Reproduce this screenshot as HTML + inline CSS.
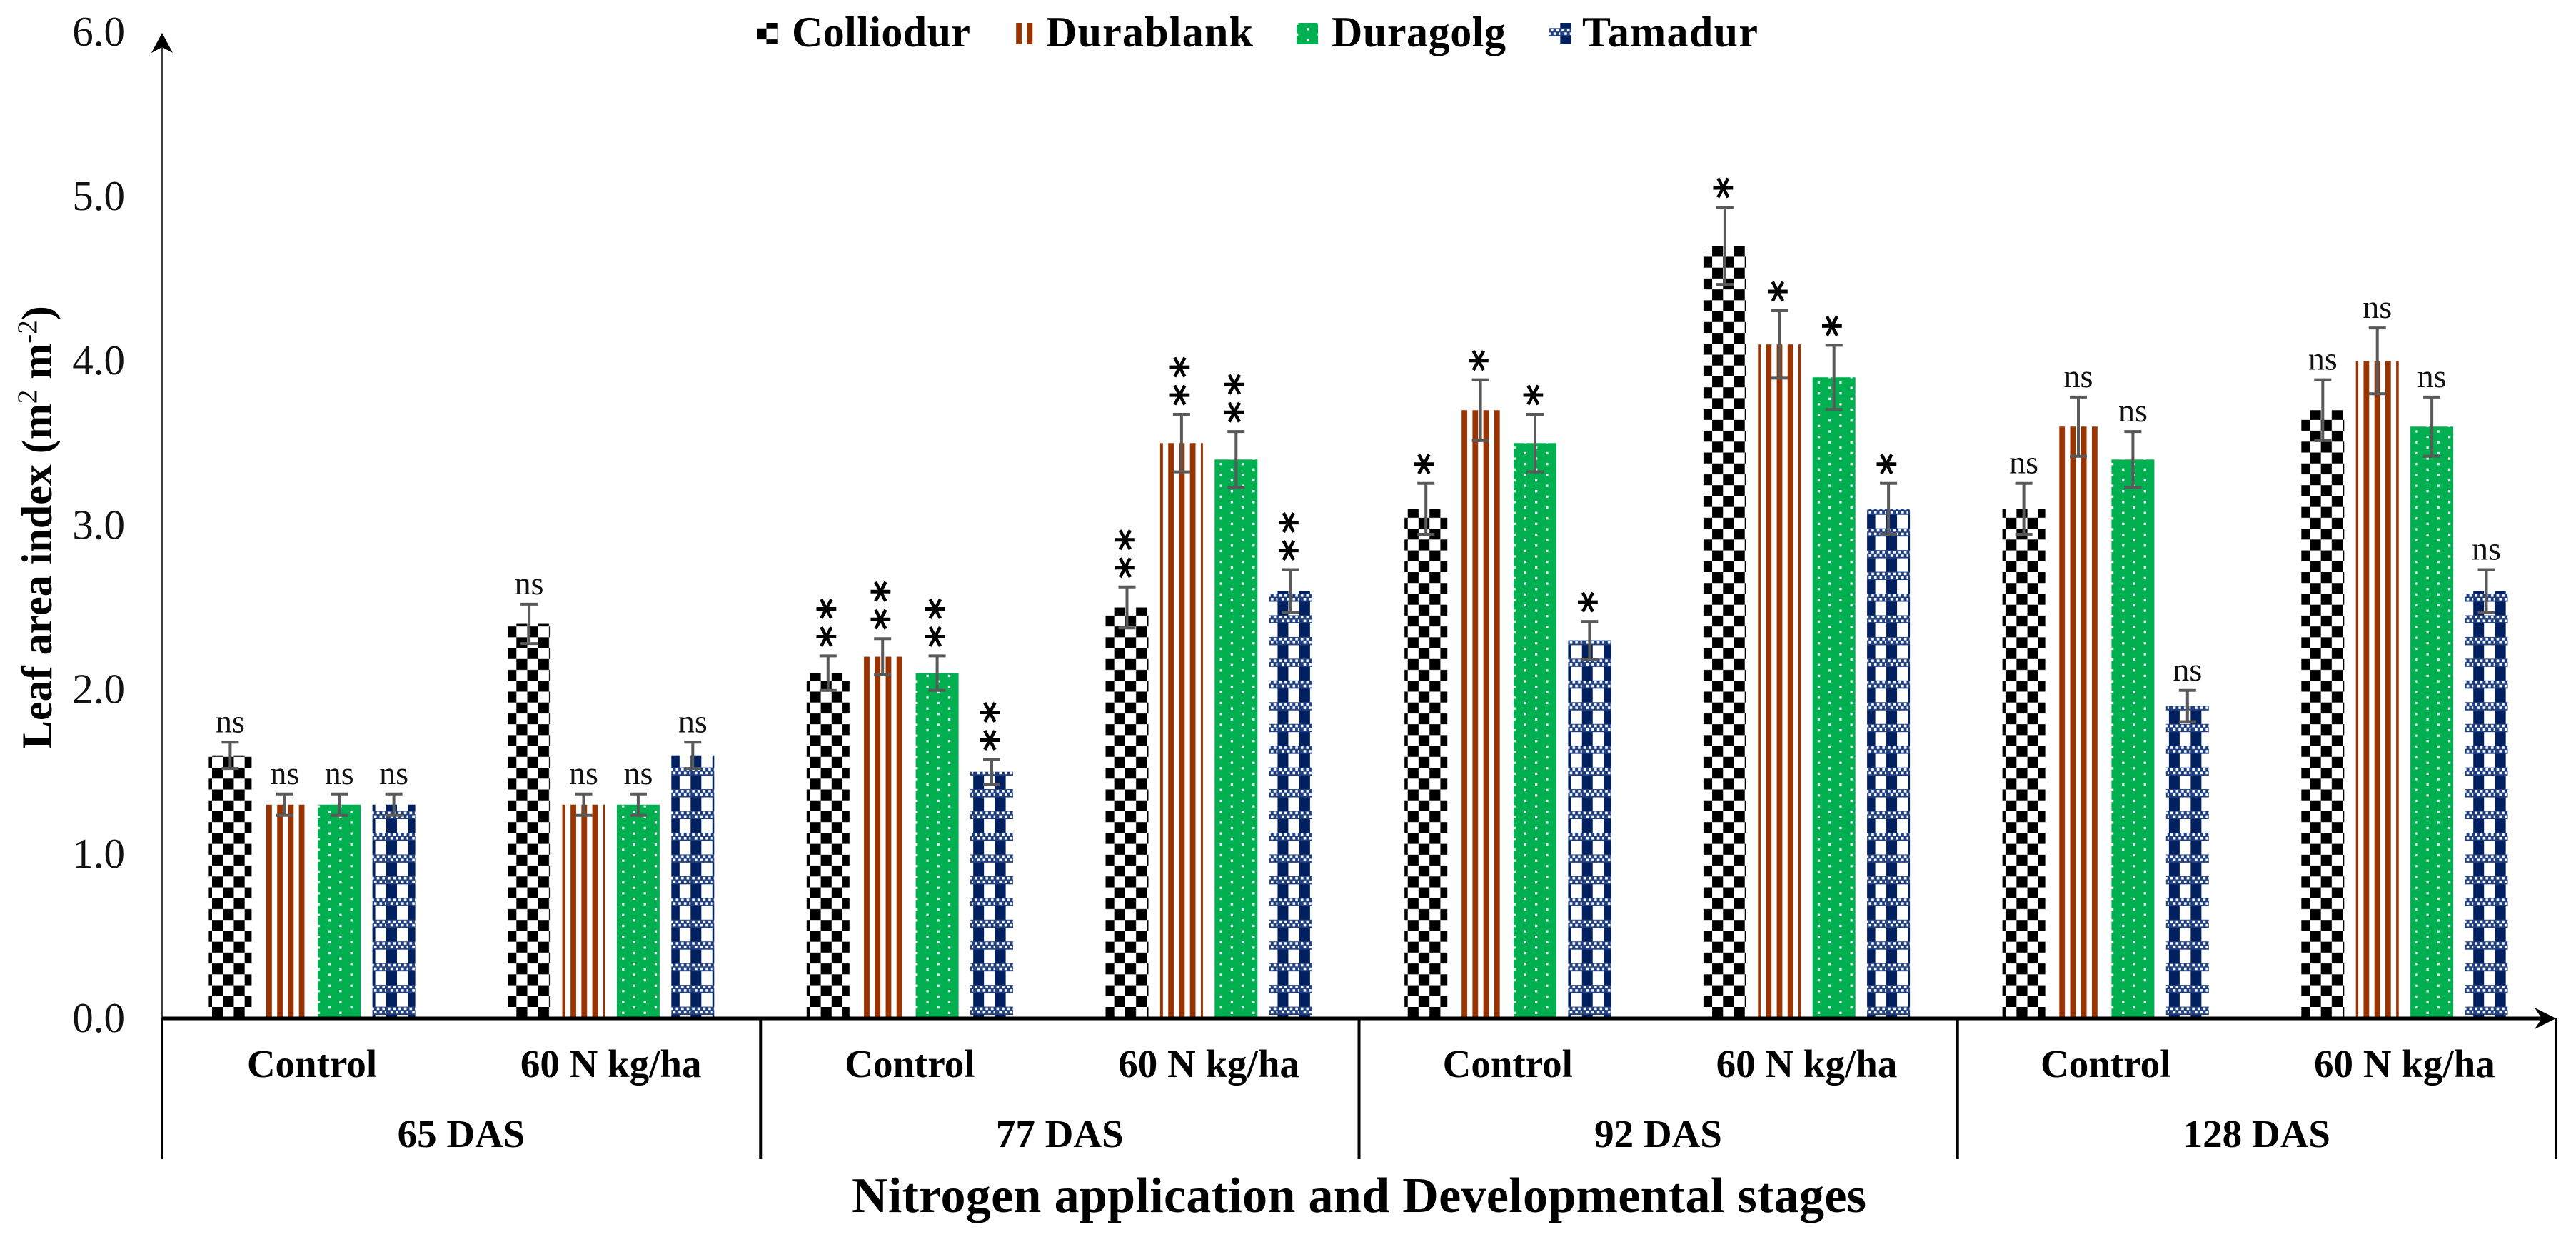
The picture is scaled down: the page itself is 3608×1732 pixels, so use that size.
<!DOCTYPE html>
<html lang="en">
<head>
<meta charset="utf-8">
<title>Leaf area index chart</title>
<style>
html,body{margin:0;padding:0;background:#fff;}
svg{display:block;font-family:"Liberation Serif","Times New Roman",serif;}
</style>
</head>
<body>
<svg id="chart" xmlns="http://www.w3.org/2000/svg" width="3608" height="1732" viewBox="0 0 3608 1732">
  <defs>
    <pattern id="pat-checker" patternUnits="userSpaceOnUse" x="297" y="1410" width="30.45" height="30.45">
      <rect x="0" y="0" width="15.22" height="15.22" fill="#000"/>
      <rect x="15.22" y="15.22" width="15.23" height="15.23" fill="#000"/>
    </pattern>
    <pattern id="pat-stripes" patternUnits="userSpaceOnUse" x="373" y="0" width="15.22" height="30">
      <rect x="0" y="0" width="7.8" height="30" fill="#993300"/>
    </pattern>
    <pattern id="pat-dots" patternUnits="userSpaceOnUse" x="461.7" y="1136.7" width="30.45" height="15.22">
      <rect x="-1.6" y="-1.6" width="3.2" height="3.2" fill="#fff"/>
      <rect x="28.85" y="-1.6" width="3.2" height="3.2" fill="#fff"/>
      <rect x="-1.6" y="13.62" width="3.2" height="3.2" fill="#fff"/>
      <rect x="28.85" y="13.62" width="3.2" height="3.2" fill="#fff"/>
      <rect x="13.6" y="6" width="3.2" height="3.2" fill="#fff"/>
    </pattern>
    <pattern id="pat-plaid" patternUnits="userSpaceOnUse" x="541" y="1147" width="30.45" height="30.45">
      <rect x="0" y="0" width="15" height="19" fill="#002060"/>
      <rect x="0" y="19" width="30.45" height="11.45" fill="#1f3f80"/>
      <g fill="#fff">
        <rect x="2" y="20" width="3.6" height="3.6"/><rect x="9.6" y="20" width="3.6" height="3.6"/>
        <rect x="17.2" y="20" width="3.6" height="3.6"/><rect x="24.8" y="20" width="3.6" height="3.6"/>
        <rect x="5.8" y="25" width="3.6" height="3.6"/><rect x="13.4" y="25" width="3.6" height="3.6"/>
        <rect x="21" y="25" width="3.6" height="3.6"/><rect x="28.4" y="25" width="2" height="3.6"/>
      </g>
    </pattern>
  </defs>

  <rect x="0" y="0" width="3608" height="1732" fill="#fff"/>

  <g id="bars"></g>
  <g id="ticks"></g>

  <g>
    <line x1="227" y1="1426" x2="227" y2="66" stroke="#404040" stroke-width="4"/>
    <path d="M212,74 L227,46 L242,74 L227,66 Z" fill="#000"/>
    <line x1="227" y1="1426" x2="3566" y2="1426" stroke="#000" stroke-width="5"/>
    <path d="M3550,1411 L3580,1426 L3550,1441 L3560,1426 Z" fill="#000"/>
  </g>
  <g id="cats"></g>

  <text transform="translate(72,1049) rotate(-90)" font-size="60" font-weight="bold" fill="#000">Leaf area index (m<tspan font-size="39" font-weight="normal" dy="-21">2</tspan><tspan dy="21"> m</tspan><tspan font-size="39" font-weight="normal" dy="-21">-2</tspan><tspan dy="21">)</tspan></text>
  <text x="1193" y="1697" font-size="70" font-weight="bold" fill="#000" textLength="1421" lengthAdjust="spacing">Nitrogen application and Developmental stages</text>

  <g>
    <g>
      <rect x="1060" y="32" width="29" height="30" fill="#fff"/>
      <rect x="1060" y="32" width="29" height="30" fill="url(#pat-checker)"/>
      <text x="1109" y="65" font-size="60" font-weight="bold" textLength="250">Colliodur</text>
    </g>
    <g>
      <rect x="1422" y="32" width="25" height="30" fill="url(#pat-stripes)"/>
      <text x="1465" y="65" font-size="60" font-weight="bold" textLength="290">Durablank</text>
    </g>
    <g>
      <rect x="1816" y="32" width="30" height="30" fill="#00b050"/>
      <rect x="1816" y="32" width="30" height="30" fill="url(#pat-dots)"/>
      <text x="1865" y="65" font-size="60" font-weight="bold" textLength="244">Duragolg</text>
    </g>
    <g>
      <rect x="2170" y="32" width="31" height="30" fill="url(#pat-plaid)"/>
      <text x="2216" y="65" font-size="60" font-weight="bold" textLength="246">Tamadur</text>
    </g>
  </g>
</svg>

<script>
// Chart data
var seriesNames = ['Colliodur', 'Durablank', 'Duragolg', 'Tamadur'];
var treatments = ['Control', '60 N kg/ha', 'Control', '60 N kg/ha', 'Control', '60 N kg/ha', 'Control', '60 N kg/ha'];
var stages = ['65 DAS', '77 DAS', '92 DAS', '128 DAS'];
var yTickLabels = ['0.0', '1.0', '2.0', '3.0', '4.0', '5.0', '6.0'];
var yTickValues = [0, 1, 2, 3, 4, 5, 6];

var colliodur = [1.6, 2.4, 2.1, 2.5, 3.1, 4.7, 3.1, 3.7];
var durablank = [1.3, 1.3, 2.2, 3.5, 3.7, 4.1, 3.6, 4.0];
var duragolg  = [1.3, 1.3, 2.1, 3.4, 3.5, 3.9, 3.4, 3.6];
var tamadur   = [1.3, 1.6, 1.5, 2.6, 2.3, 3.1, 1.9, 2.6];

var colliodurErr = [0.08, 0.12, 0.105, 0.125, 0.155, 0.235, 0.155, 0.185];
var durablankErr = [0.065, 0.065, 0.11, 0.175, 0.185, 0.205, 0.18, 0.2];
var duragolgErr  = [0.065, 0.065, 0.105, 0.17, 0.175, 0.195, 0.17, 0.18];
var tamadurErr   = [0.065, 0.08, 0.075, 0.13, 0.115, 0.155, 0.095, 0.13];

var significance = ['ns', 'ns', '**', '**', '*', '*', 'ns', 'ns'];

var allValues = [colliodur, durablank, duragolg, tamadur];
var allErrors = [colliodurErr, durablankErr, duragolgErr, tamadurErr];

// Axis functions
var NS = 'http://www.w3.org/2000/svg';
function yScale(v) { return 1426 - 230.2 * v; }
function categoryCenter(i) { return 437 + 418.7 * i; }
function seriesCenter(c, s) { return categoryCenter(c) + (s - 1.5) * 76.4; }
function stageLeft(i) { return 227 + 838.25 * i; }

function make(tag, attrs, parent) {
  var el = document.createElementNS(NS, tag);
  for (var k in attrs) { el.setAttribute(k, attrs[k]); }
  parent.appendChild(el);
  return el;
}

var fills = ['url(#pat-checker)', 'url(#pat-stripes)', '#00b050', 'url(#pat-plaid)'];
var barsG = document.getElementById('bars');
var ticksG = document.getElementById('ticks');
var catsG = document.getElementById('cats');
var BAR_W = 60;

yTickValues.forEach(function (v, i) {
  var t = make('text', { x: 175, y: yScale(v) + 19, 'text-anchor': 'end', 'font-size': 59, fill: '#111' }, ticksG);
  
  
  t.textContent = yTickLabels[i];
});

allValues.forEach(function (values, s) {
  var g = make('g', {}, barsG);
  
  
  values.forEach(function (v, c) {
    var cx = seriesCenter(c, s);
    var top = yScale(v);
    var h = yScale(0) - top;
    var bar = make('rect', { x: cx - BAR_W / 2, y: top, width: BAR_W, height: h, fill: fills[s] }, g);
    
    
    if (s === 2) {
      var dots = make('rect', { x: cx - BAR_W / 2, y: top, width: BAR_W, height: h, fill: 'url(#pat-dots)' }, g);
      
      
    }
    var err = allErrors[s][c];
    var errTop = yScale(v + err);
    var errBot = yScale(v - err);
    var eg = make('g', { stroke: '#595959', 'stroke-width': 4, fill: 'none' }, g);
    
    
    make('line', { x1: cx, y1: errTop, x2: cx, y2: errBot }, eg);
    make('line', { x1: cx - 12, y1: errTop, x2: cx + 12, y2: errTop }, eg);
    make('line', { x1: cx - 12, y1: errBot, x2: cx + 12, y2: errBot }, eg);

    var sig = significance[c];
    if (sig === 'ns') {
      var ns = make('text', { x: cx, y: errTop - 14, 'text-anchor': 'middle', 'font-size': 46, fill: '#111' }, g);
      
      
      ns.textContent = 'ns';
    } else {
      for (var k = 0; k < sig.length; k++) {
        var sy = errTop - 27 - 39 * k;
        var star = make('text', { x: cx - 2, y: sy + 31, 'text-anchor': 'middle', 'font-size': 60, 'font-weight': 'bold', fill: '#000', transform: 'rotate(90 ' + (cx - 2) + ' ' + sy + ')', style: 'font-family:"DejaVu Sans",sans-serif' }, g);
        
        
        star.textContent = '*';
      }
    }
  });
});

treatments.forEach(function (name, c) {
  var t = make('text', { x: categoryCenter(c), y: 1508, 'text-anchor': 'middle', 'font-size': 55, 'font-weight': 'bold' }, catsG);
  
  
  t.textContent = name;
});

stages.forEach(function (name, i) {
  var t = make('text', { x: stageLeft(i) + 419, y: 1606, 'text-anchor': 'middle', 'font-size': 55, 'font-weight': 'bold' }, catsG);
  
  
  t.textContent = name;
});

for (var d = 0; d <= stages.length; d++) {
  var sep = make('line', { x1: stageLeft(d), y1: 1426, x2: stageLeft(d), y2: 1623, stroke: '#000', 'stroke-width': 4 }, catsG);
  
  
}
</script>
</body>
</html>
